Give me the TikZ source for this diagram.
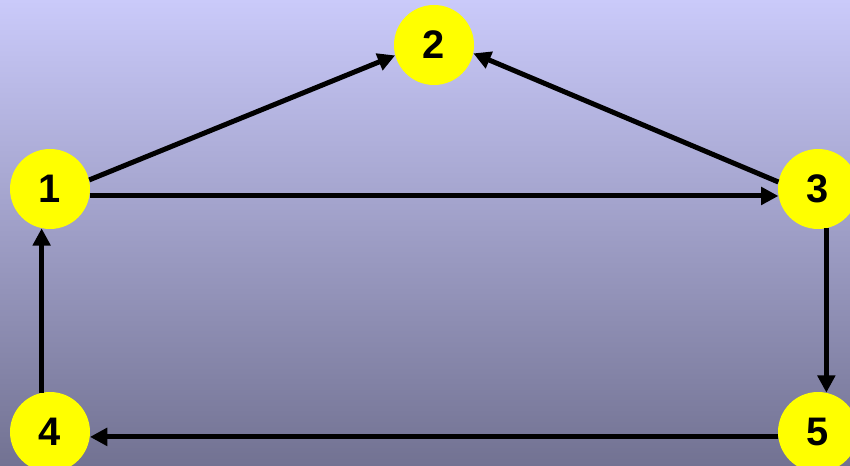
\documentclass[tikz,border=0pt]{standalone}
\usepackage{fontspec}
\setmainfont{Liberation Sans}
\usetikzlibrary{positioning, arrows.meta, calc}
\definecolor{bgtop}{RGB}{202,202,250}
\definecolor{bgbot}{RGB}{114,114,146}
\definecolor{nodeyellow}{RGB}{255,255,0}

\begin{document}
\begin{tikzpicture}[
  >={Triangle[length=5.2mm, width=5.2mm]},
  vert/.style={circle, fill=nodeyellow, minimum size=2.4cm, inner sep=0pt, font=\fontsize{34}{36}\selectfont\bfseries},
  arr/.style={->, line width=1.5mm}
]
  \useasboundingbox (0,0) rectangle (25.5,13.98);
  \clip (0,0) rectangle (25.5,13.98);
  \shade[top color=bgtop, bottom color=bgbot] (0,0) rectangle (25.5,13.98);

  \node[vert] (n1) at (1.5,8.31) {1};
  \node[vert] (n2) at (13.02,12.63) {2};
  \node[vert] (n3) at (24.54,8.31) {3};
  \node[vert] (n4) at (1.5,1.02) {4};
  \node[vert] (n5) at (24.54,1.02) {5};

  \draw[arr] (n1.13) -- (n2.195);
  \draw[arr] (n3.170) -- (n2.-12);
  \draw[arr] (n1.-10) -- (n3.190);
  \draw[arr] (n3.-78) -- (n5.78);
  \draw[arr] (n5.187) -- (n4.-7);
  \draw[arr] (n4.102) -- (n1.258);
\end{tikzpicture}
\end{document}
